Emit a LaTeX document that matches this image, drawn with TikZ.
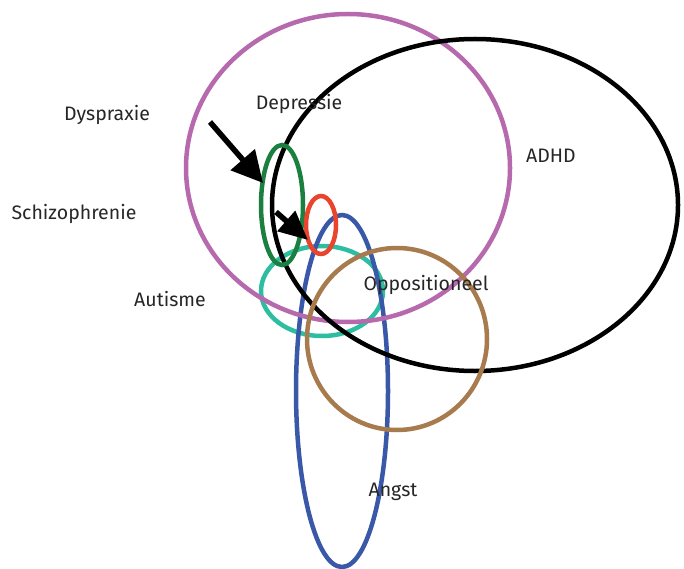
\documentclass[tikz,border=0pt]{standalone}
\usepackage{fontspec}
\setmainfont{Fira Sans}
\usetikzlibrary{arrows.meta}
\definecolor{depr}{RGB}{182,106,173}
\definecolor{dysp}{RGB}{27,127,63}
\definecolor{schiz}{RGB}{232,68,46}
\definecolor{aut}{RGB}{45,189,160}
\definecolor{angst}{RGB}{58,88,168}
\definecolor{opp}{RGB}{168,123,78}
\tikzset{lbl/.style={font=\fontsize{19.5}{22}\selectfont, text=black!85}}

\begin{document}
\begin{tikzpicture}[x=1pt,y=-1pt]
			%%%%% START %%%%%
			\useasboundingbox (0, 0) rectangle (684, 569);
			
			\draw[line width=4.5pt, color=aut] (322, 291) ellipse (61 and 45);
			\draw[line width=4.5pt, color=angst] (342, 391) ellipse (46 and 176);
			\draw[line width=4.5pt, color=depr] (348, 168) ellipse (162 and 154);
			\draw[line width=4.5pt, color=black] (475, 205) ellipse (203 and 166);
			\draw[line width=4.5pt, color=opp] (397, 339) ellipse (90 and 91);
			\draw[line width=4.5pt, color=dysp] (282, 205) ellipse (21 and 60);
			\draw[line width=4.5pt, color=schiz] (321, 225) ellipse (15 and 29);
			
			\node[lbl] (dyspraxie) at (107, 115) {Dyspraxie};
			\node[lbl] (depressie) at (299, 104) {Depressie};
			\node[lbl] (adhd) at (551, 156) {ADHD};
			\node[lbl] (schizo) at (74, 214) {Schizophrenie};
			\node[lbl] (autisme) at (170, 299) {Autisme};
			\node[lbl] (opposit) at (426, 285) {Oppositioneel};
			\node[lbl] (angst) at (393, 492) {Angst};
			
			\coordinate (a1s) at (210, 122);
			\coordinate (a1e) at (263, 183);
			\coordinate (a2s) at (276, 212);
			\coordinate (a2e) at (308, 240);
			\draw[line width=5.5pt, -{Triangle[length=31pt, width=31pt]}] (a1s) -- (a1e);
			\draw[line width=5.5pt, -{Triangle[length=29pt, width=26pt]}] (a2s) -- (a2e);
			
			%%%%% END %%%%%
\end{tikzpicture}
\end{document}
